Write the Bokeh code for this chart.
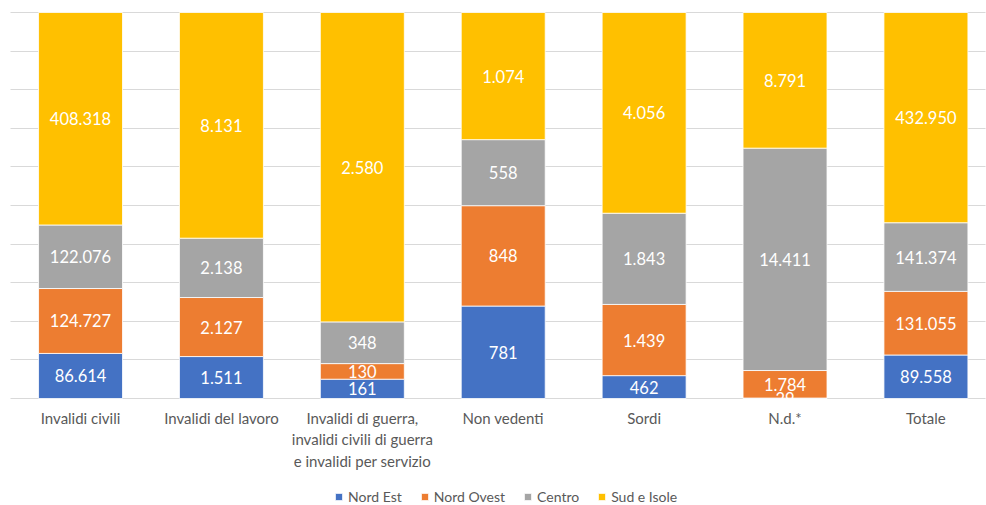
from bokeh.plotting import figure
from bokeh.models import Range1d, FixedTicker, Legend, LegendItem, ColumnDataSource, Grid
from bokeh.core.properties import value
from bokeh.embed import file_html
from bokeh.resources import INLINE

categories = ["Invalidi civili", "Invalidi del lavoro",
              "Invalidi di guerra,\ninvalidi civili di guerra\ne invalidi per servizio",
              "Non vedenti", "Sordi", "N.d.*", "Totale"]
series = ["Nord Est", "Nord Ovest", "Centro", "Sud e Isole"]
nord_est = [86614, 1511, 161, 781, 462, 29, 89558]
nord_ovest = [124727, 2127, 130, 848, 1439, 1784, 131055]
centro = [122076, 2138, 348, 558, 1843, 14411, 141374]
sud_isole = [408318, 8131, 2580, 1074, 4056, 8791, 432950]
colors = ["#4472C4", "#ED7D31", "#A5A5A5", "#FFC000"]

FONT = "Lato"
W, H = 986, 505
PLOT_L, PLOT_R, PLOT_T, PLOT_B = 10, 985, 12, 398   # plot area in pixels
CAT_PX = 140.9                                      # pixels per category
data = [nord_est, nord_ovest, centro, sud_isole]
xs = list(range(len(categories)))
totals = [sum(v) for v in zip(*data)]

# ranges so that the 0..1 share scale fills the plot area and labels/legend fit below
x0 = -0.497 - PLOT_L / CAT_PX
x1 = x0 + W / CAT_PX
ppu = PLOT_B - PLOT_T
y0 = -(H - PLOT_B) / ppu
y1 = 1 + PLOT_T / ppu

p = figure(width=W, height=H, output_backend="svg", toolbar_location=None,
           x_range=Range1d(x0, x1), y_range=Range1d(y0, y1),
           x_axis_location=None, y_axis_location=None, min_border=0)
p.outline_line_color = None
p.background_fill_color = "white"
p.border_fill_color = "white"
for g in p.grid:
    g.visible = False

grid = Grid(dimension=1, ticker=FixedTicker(ticks=[i / 10 for i in range(11)]),
            grid_line_color="#d9d9d9", grid_line_width=1, bounds=(0, 1))
if "cross_bounds" in Grid.properties():
    grid.cross_bounds = (-0.497, x1 - 1 / CAT_PX)
p.add_layout(grid)

items = []
sources = []
bottoms = [0.0] * len(xs)
for name, vals, col in zip(series, data, colors):
    fr = [v / t for v, t in zip(vals, totals)]
    tops = [b + f for b, f in zip(bottoms, fr)]
    mids = [(b + t) / 2 for b, t in zip(bottoms, tops)]
    labels = [f"{v:,}".replace(",", ".") for v in vals]
    src = ColumnDataSource(dict(x=xs, bottom=bottoms, top=tops, mid=mids, label=labels))
    r = p.vbar(x="x", width=0.596, bottom="bottom", top="top", source=src,
               fill_color=col, line_color="white", line_width=0.8)
    items.append(LegendItem(label=name, renderers=[r]))
    sources.append(src)
    bottoms = tops

for src in sources:
    p.text(x="x", y="mid", text="label", source=src, text_color="white",
           text_align="center", text_baseline="middle",
           text_font=value(FONT), text_font_size="16.5px")

# category labels below the baseline
cat_src = ColumnDataSource(dict(x=xs, y=[-10 / ppu] * len(xs), label=categories))
p.text(x="x", y="y", text="label", source=cat_src, text_color="#595959",
       text_align="center", text_baseline="top", text_line_height=1.2,
       text_font=value(FONT), text_font_size="15px")

legend = Legend(items=items, orientation="horizontal", location=(334, 0))
legend.border_line_color = None
legend.background_fill_alpha = 0
legend.label_text_font = FONT
legend.label_text_font_size = "14px"
legend.label_text_color = "#595959"
legend.glyph_width = 9
legend.glyph_height = 9
legend.spacing = 18
legend.label_standoff = 5
legend.margin = 0
legend.padding = 0
p.add_layout(legend, "center")

open("out.html", "w").write(file_html(p, INLINE))
